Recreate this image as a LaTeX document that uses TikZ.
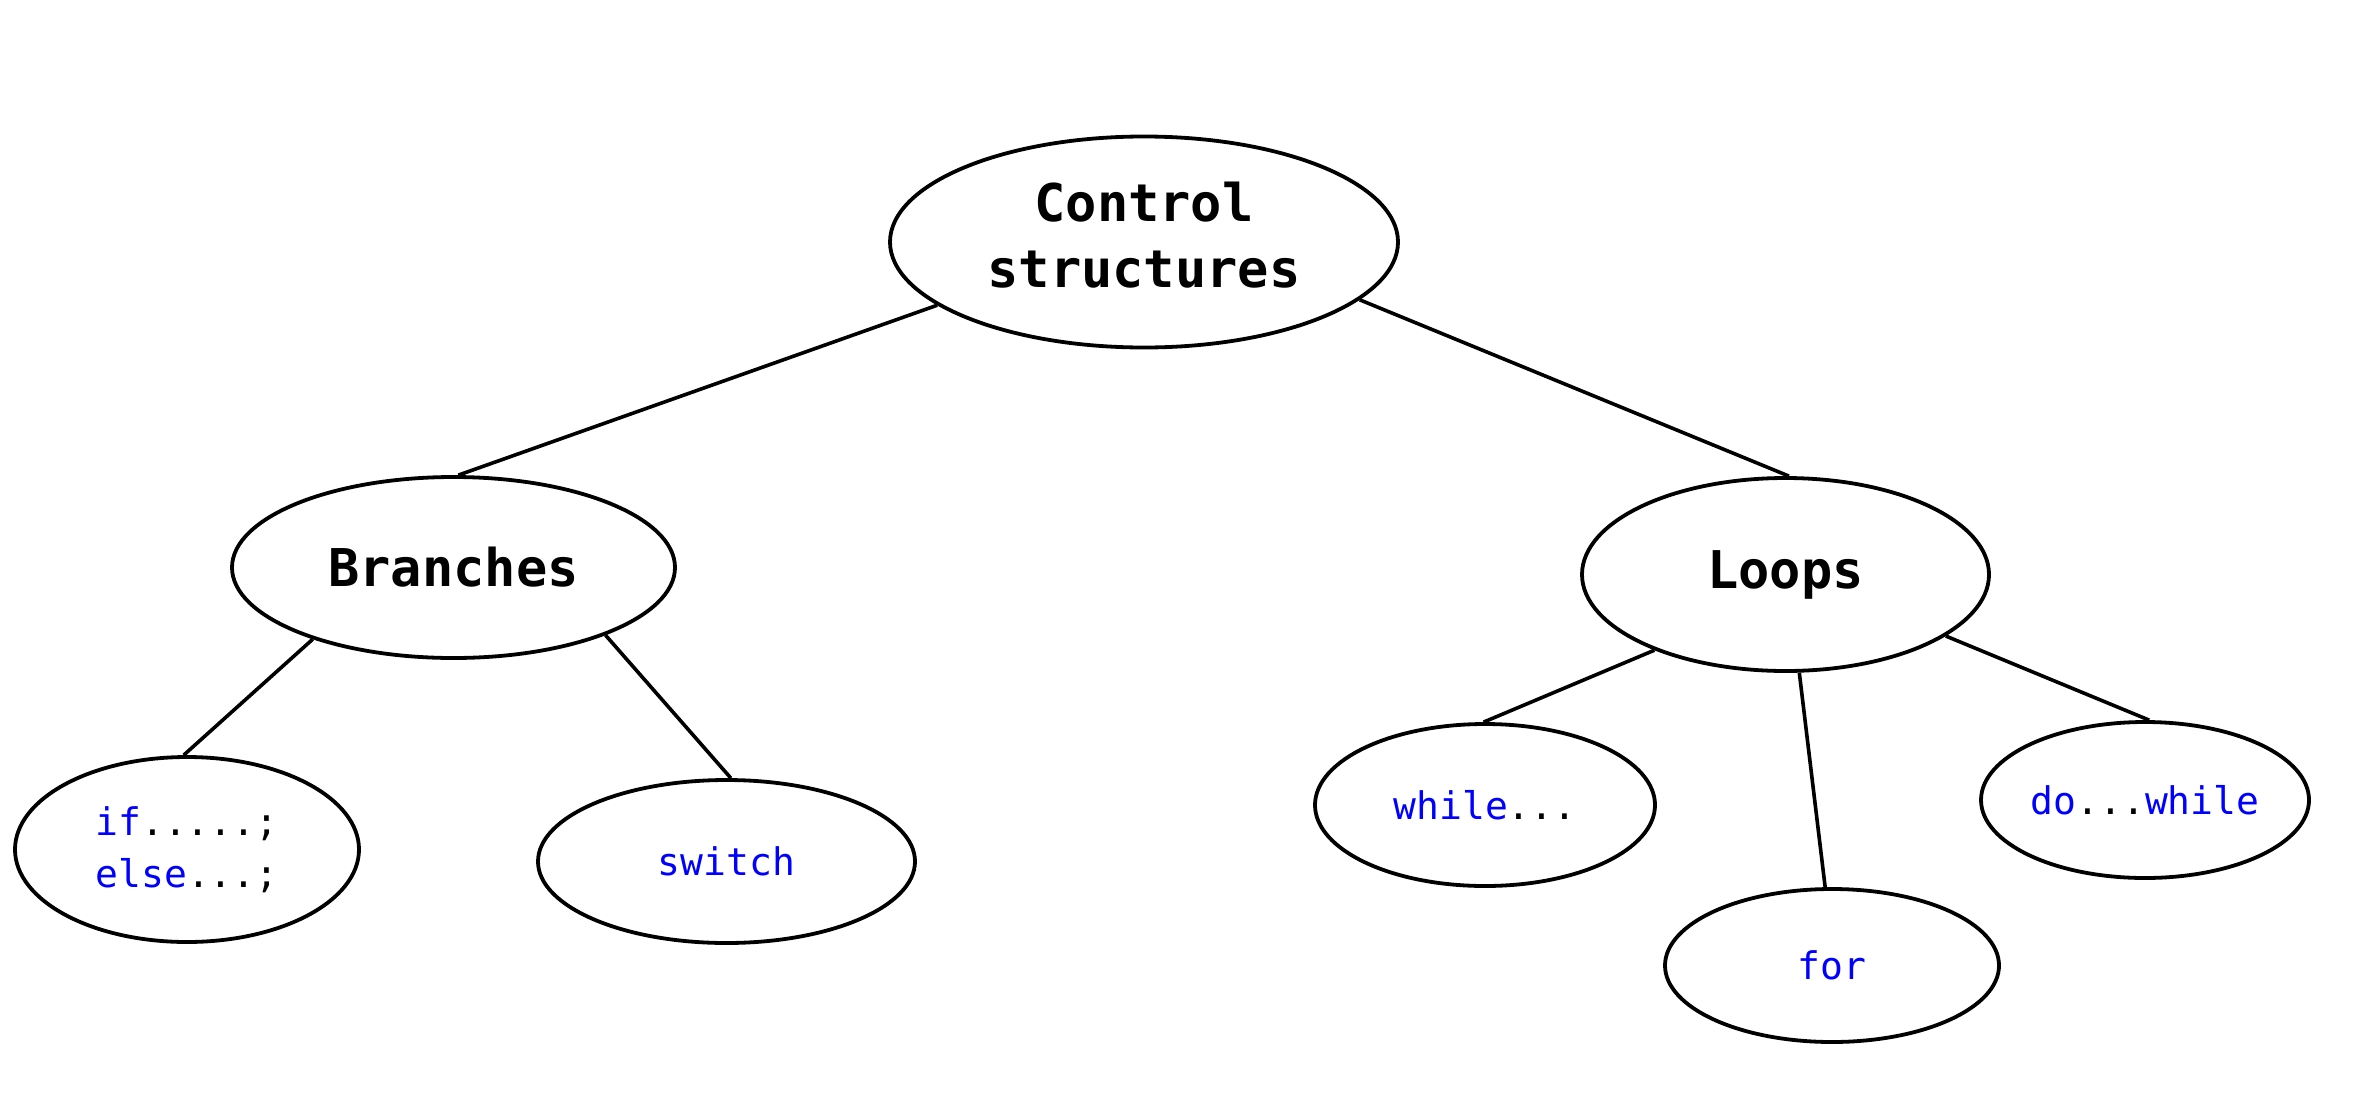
\documentclass[tikz,border=0pt]{standalone}
\usepackage{fontspec}
\usepackage{xcolor}
\usepackage{tikz}
\usetikzlibrary{shapes.geometric}
\newfontfamily\codefont{DejaVu Sans Mono}

\tikzset{
  oval/.style={draw,ellipse,line width=3.8pt,inner sep=0pt,align=center},
  topfont/.style={font=\codefont\bfseries\fontsize{52}{66}\selectfont},
  leaffont/.style={font=\codefont\fontsize{38}{52}\selectfont},
  edge/.style={line width=3.6pt}
}
\newcommand{\kw}[1]{\textcolor{blue}{#1}}

\begin{document}
\begin{tikzpicture}[x=1pt,y=1pt,yscale=-1,xscale=1]

\useasboundingbox (0,0) rectangle (2366,1092);

% top
\node (ctrl) [oval,topfont,minimum width=508,minimum height=211] at (1144,242) {Control\\structures\rule[-14pt]{0pt}{0pt}};

% second level
\node (branch) [oval,topfont,minimum width=443,minimum height=181] at (453.5,567.5) {Branches};
\node (loop) [oval,topfont,minimum width=407,minimum height=193] at (1785.5,574.5) {Loops};

% leaves
\node (ifelse) [oval,leaffont,align=left,minimum width=344,minimum height=185] at (187,849.5) {\kw{if}.....;\\\kw{else}...;};
\node (switch) [oval,leaffont,minimum width=377,minimum height=163] at (726.5,861.5) {\kw{switch}};
\node (while) [oval,leaffont,minimum width=340,minimum height=162] at (1485,805) {\kw{while}...};
\node (for) [oval,leaffont,minimum width=334,minimum height=153] at (1832,965.5) {\kw{for}};
\node (dowhile) [oval,leaffont,minimum width=328,minimum height=156] at (2145,800) {\kw{do}...\kw{while}};

% connectors
\draw [edge] (ctrl.197.4) -- (branch.87.2);
\draw [edge] (ctrl.345.9) -- (loop.88.5);
\draw [edge] (branch.207.1) -- (ifelse.92.4);
\draw [edge] (branch.336.3) -- (switch.87.6);
\draw [edge] (loop.210.1) -- (while.91.4);
\draw [edge] (loop.278.3) -- (for.95.1);
\draw [edge] (loop.339.3) -- (dowhile.87.1);

\end{tikzpicture}
\end{document}
